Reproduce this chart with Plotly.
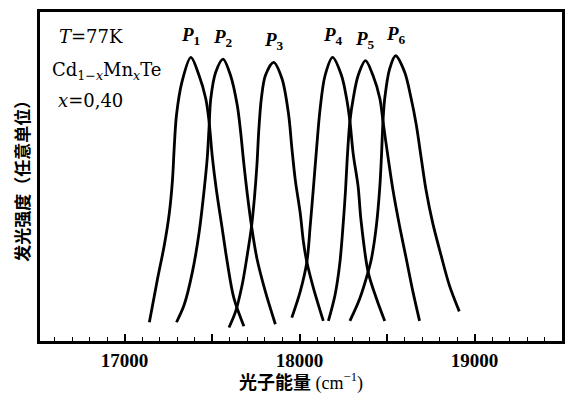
import plotly.graph_objects as go

# ---- data (photon energy in cm^-1, intensity in arbitrary units) ----
P1_x = [17142, 17189, 17227, 17256, 17274, 17284, 17297, 17328, 17379,
        17426, 17464, 17483, 17502, 17525, 17559, 17587, 17625, 17682]
P1_y = [5.7, 19.0, 29.0, 38.9, 48.9, 58.8, 68.7, 78.7, 86.2,
        80.7, 73.7, 66.8, 55.8, 45.9, 33.9, 24.0, 13.0, 4.5]

P2_x = [17297, 17341, 17388, 17426, 17455, 17473, 17483, 17493, 17521, 17563,
        17606, 17644, 17663, 17682, 17701, 17726, 17757, 17805, 17862]
P2_y = [5.7, 11.0, 21.0, 32.9, 45.9, 55.8, 64.8, 73.7, 81.7, 85.7,
        80.7, 71.7, 63.8, 53.8, 44.9, 34.9, 25.0, 15.0, 5.1]

P3_x = [17597, 17635, 17672, 17701, 17726, 17743, 17757, 17767, 17782, 17805, 17852,
        17900, 17938, 17956, 17976, 18004, 18023, 18042, 18080, 18136]
P3_y = [4.1, 9.0, 17.0, 26.0, 34.9, 43.9, 53.8, 63.8, 73.7, 80.7, 84.7,
        79.7, 68.7, 58.8, 48.9, 38.9, 29.9, 24.0, 16.0, 6.1]

P4_x = [17956, 18004, 18042, 18061, 18080, 18098, 18118, 18146, 18189,
        18240, 18269, 18288, 18307, 18335, 18351, 18392, 18439, 18487]
P4_y = [7.1, 15.0, 24.0, 34.9, 46.9, 58.8, 70.7, 80.7, 86.2,
        80.7, 73.7, 66.8, 56.8, 46.9, 36.9, 21.0, 13.0, 6.1]

P5_x = [18165, 18203, 18231, 18250, 18263, 18273, 18288, 18307, 18335, 18377,
        18420, 18459, 18477, 18506, 18534, 18572, 18610, 18648, 18686]
P5_y = [6.1, 14.0, 24.0, 35.9, 45.9, 55.8, 66.8, 73.7, 80.7, 85.2,
        80.7, 73.7, 66.8, 55.8, 45.9, 34.9, 25.0, 15.0, 6.1]

P6_x = [18288, 18345, 18392, 18411, 18439, 18459, 18468, 18477, 18487, 18515, 18549,
        18601, 18638, 18667, 18695, 18723, 18761, 18809, 18856, 18913]
P6_y = [6.1, 13.0, 21.0, 25.0, 34.9, 46.9, 55.8, 66.8, 73.7, 82.7, 86.7,
        81.7, 73.7, 65.8, 55.8, 45.9, 35.9, 26.0, 17.0, 9.0]

peak_names = ["1", "2", "3", "4", "5", "6"]
series_x = [P1_x, P2_x, P3_x, P4_x, P5_x, P6_x]
series_y = [P1_y, P2_y, P3_y, P4_y, P5_y, P6_y]

tick_vals = [17000, 17500, 18000, 18500, 19000]
tick_text = ["17000", "", "18000", "", "19000"]

x_title = "<b>光子能量</b> (cm<sup>−1</sup>)"
y_title = "发光强度（任意单位）"

SERIF = "Liberation Serif, Noto Sans CJK SC, serif"
TEXT_SERIF = "DejaVu Serif, Liberation Serif, serif"

fig = go.Figure()
for xs, ys in zip(series_x, series_y):
    fig.add_trace(go.Scatter(x=xs, y=ys, mode="lines",
                             line=dict(color="black", width=2.8, shape="spline", smoothing=0.9),
                             showlegend=False, hoverinfo="skip"))

annotations = []
for name, xs, ys in zip(peak_names, series_x, series_y):
    i = ys.index(max(ys))
    annotations.append(dict(x=xs[i], y=ys[i], xref="x", yref="y",
                            text=f"<b><i>P</i><sub>{name}</sub></b>", showarrow=False,
                            xanchor="center", yanchor="bottom", yshift=7,
                            font=dict(family=SERIF, size=19, color="black")))

annotations += [
    dict(x=0.033, y=0.925, xref="paper", yref="paper", xanchor="left", yanchor="middle",
         text="<i>T</i>=77K", showarrow=False,
         font=dict(family=TEXT_SERIF, size=18, color="black")),
    dict(x=0.019, y=0.82, xref="paper", yref="paper", xanchor="left", yanchor="middle",
         text="Cd<sub>1−<i>x</i></sub>Mn<sub><i>x</i></sub>Te", showarrow=False,
         font=dict(family=TEXT_SERIF, size=18, color="black")),
    dict(x=0.03, y=0.73, xref="paper", yref="paper", xanchor="left", yanchor="middle",
         text="<i>x</i>=0,40", showarrow=False,
         font=dict(family=TEXT_SERIF, size=18, color="black")),
    dict(x=-0.036, y=0.5, xref="paper", yref="paper", xanchor="center", yanchor="middle",
         text=y_title, textangle=-90, showarrow=False,
         font=dict(family="Noto Sans CJK SC", size=17, color="black", weight="bold")),
]

fig.update_layout(
    width=572, height=394,
    margin=dict(l=40, r=7, t=12, b=47),
    paper_bgcolor="white", plot_bgcolor="white",
    annotations=annotations,
    xaxis=dict(range=[16517, 19500], showgrid=False, zeroline=False,
               showline=True, mirror=True, linecolor="black", linewidth=2.6,
               ticks="inside", ticklen=7, tickwidth=1.6, tickcolor="black",
               tickvals=tick_vals, ticktext=tick_text,
               minor=dict(dtick=100, ticks="inside", ticklen=4, tickwidth=1.4, tickcolor="black"),
               tickfont=dict(family=SERIF, size=19, color="black", weight="bold"),
               title=dict(text=x_title, standoff=4,
                          font=dict(family="Liberation Serif, Noto Sans CJK SC", size=18, color="black"))),
    yaxis=dict(range=[0, 100], showgrid=False, zeroline=False,
               showline=True, mirror=True, linecolor="black", linewidth=2.6,
               ticks="", showticklabels=False),
)

fig.write_html("out.html")
